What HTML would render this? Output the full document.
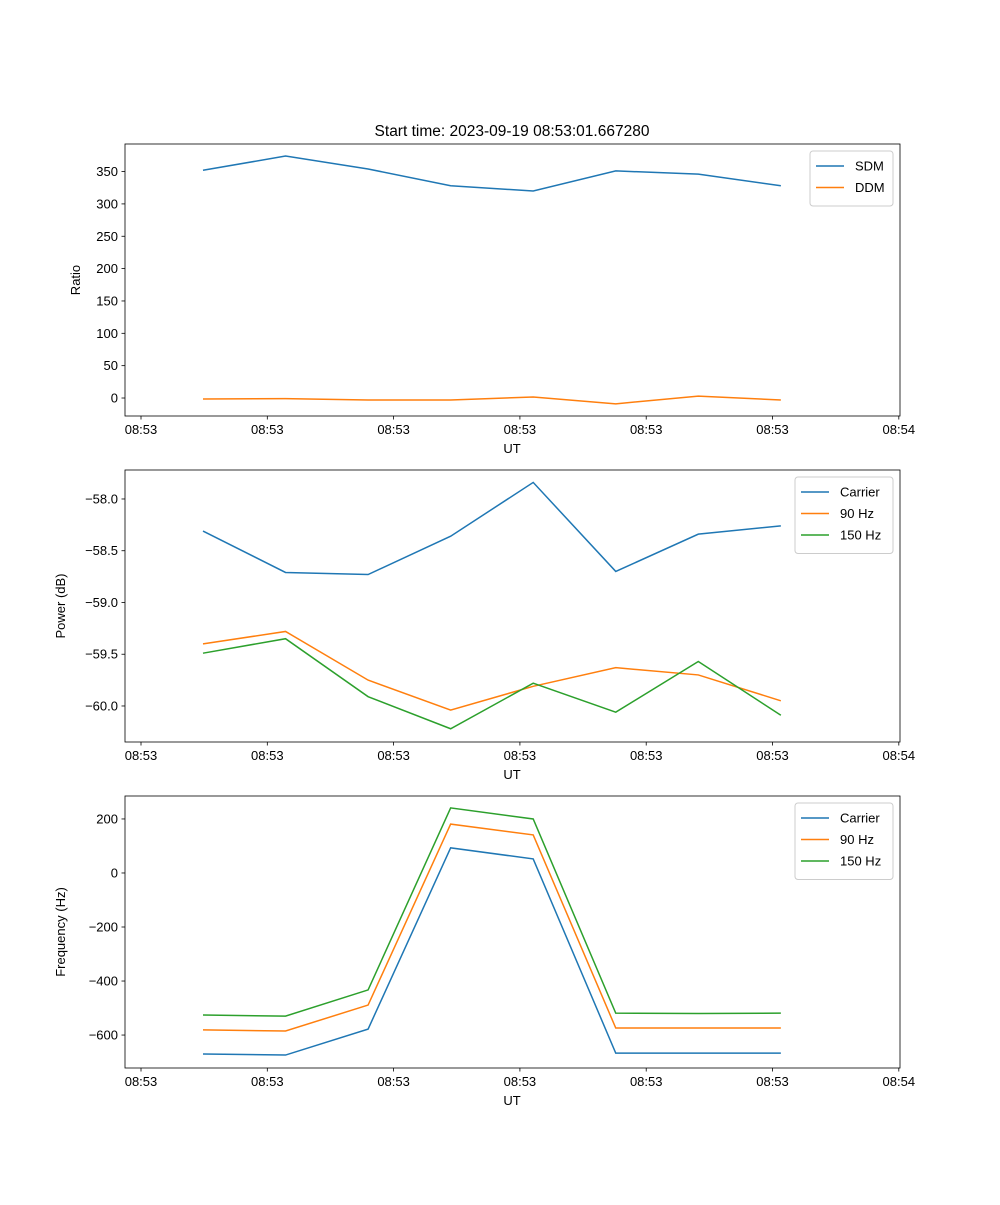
<!DOCTYPE html>
<html><head><meta charset="utf-8"><style>
body{margin:0;background:#fff;}
svg text{font-family:"Liberation Sans","DejaVu Sans",sans-serif;font-size:13px;fill:#000;}
</style></head><body>
<svg id="fig" width="1000" height="1200" xmlns="http://www.w3.org/2000/svg">
<rect width="1000" height="1200" fill="#fff"/>
<text x="512" y="136" text-anchor="middle" style="font-size:15.5px">Start time: 2023-09-19 08:53:01.667280</text>
</svg>
<script>
// shared x data (sample index) and tick info
const xTickPos = [-0.751, 0.779, 2.309, 3.839, 5.369, 6.899, 8.429];
const xTickLabels = ["08:53","08:53","08:53","08:53","08:53","08:53","08:54"];
// panel 1
const sdm = [352, 374, 354, 328, 320, 351, 346, 328];
const ddm = [-1.5, -1, -3, -3, 1.5, -9, 3, -3];
const p1Ticks = [0,50,100,150,200,250,300,350];
// panel 2
const pCarrier = [-58.31,-58.71,-58.73,-58.36,-57.84,-58.70,-58.34,-58.26];
const p90 = [-59.40,-59.28,-59.75,-60.04,-59.81,-59.63,-59.70,-59.95];
const p150 = [-59.49,-59.35,-59.91,-60.22,-59.78,-60.06,-59.57,-60.09];
const p2Ticks = [-60.0,-59.5,-59.0,-58.5,-58.0];
// panel 3
const fCarrier = [-670,-674,-578,93,52,-667,-667,-667];
const f90 = [-581,-585,-489,181,141,-574,-574,-574];
const f150 = [-526,-530,-433,241,200,-519,-520,-519];
const p3Ticks = [-600,-400,-200,0,200];

const NS="http://www.w3.org/2000/svg";
const svg=document.getElementById('fig');
function mk(t,a,p){const e=document.createElementNS(NS,t);for(const k in a)e.setAttribute(k,a[k]);(p||svg).appendChild(e);return e;}
const X0=125,X1=900;
function xs(i){return 203+i*82.55;}
const colors=["#1f77b4","#ff7f0e","#2ca02c"];

function panel(top,ymin,ymax,yticks,fmt,series,names,ylabel,legW,pname){
  const bot=top+272;
  const g=mk('g',{});
  
  
  const ys=v=>bot-(v-ymin)/(ymax-ymin)*272;
  series.forEach((s,k)=>{
    const pl=mk('polyline',{points:s.map((v,i)=>xs(i)+','+ys(v)).join(' '),fill:'none',stroke:colors[k],'stroke-width':1.5},g);
    
    
  });
  mk('rect',{x:X0,y:top,width:X1-X0,height:272,fill:'none',stroke:'#000','stroke-width':0.8},g);
  xTickPos.forEach((p,i)=>{const x=xs(p);
    mk('line',{x1:x,x2:x,y1:bot,y2:bot+3.5,stroke:'#000','stroke-width':0.8},g);
    const t=mk('text',{x:x,y:bot+18,'text-anchor':'middle'},g);t.textContent=xTickLabels[i];
    
    });
  yticks.forEach(v=>{const y=ys(v);
    mk('line',{x1:X0-3.5,x2:X0,y1:y,y2:y,stroke:'#000','stroke-width':0.8},g);
    const t=mk('text',{x:X0-7,y:y+4.5,'text-anchor':'end'},g);t.textContent=fmt(v);
    
    });
  const xl=mk('text',{x:512,y:bot+37,'text-anchor':'middle'},g);xl.textContent='UT';
  
  
  const lx=ylabel==='Ratio'?80:65;
  const yl=mk('text',{x:lx,y:top+136,'text-anchor':'middle',transform:`rotate(-90 ${lx} ${top+136})`},g);yl.textContent=ylabel;
  
  
  const lx0=893-legW, ly0=top+7;
  const lg=mk('g',{},g);
  
  
  mk('rect',{x:lx0,y:ly0,width:legW,height:12+names.length*21.5,fill:'#fff',stroke:'#ccc',rx:3},lg);
  names.forEach((n,k)=>{const y=ly0+15+k*21.5;
    mk('line',{x1:lx0+6,x2:lx0+34,y1:y,y2:y,stroke:colors[k],'stroke-width':1.5},lg);
    const t=mk('text',{x:lx0+45,y:y+4.5},lg);t.textContent=n;
    
    });
}
panel(144,-27.8,392.6,p1Ticks,v=>String(v),[sdm,ddm],["SDM","DDM"],'Ratio',83,'ratio-panel');
panel(470,-60.348,-57.72,p2Ticks,v=>(v<0?'\u2212':'')+Math.abs(v).toFixed(1),[pCarrier,p90,p150],["Carrier","90 Hz","150 Hz"],'Power (dB)',98,'power-panel');
panel(796,-722,285,p3Ticks,v=>(v<0?'\u2212':'')+Math.abs(v),[fCarrier,f90,f150],["Carrier","90 Hz","150 Hz"],'Frequency (Hz)',98,'frequency-panel');
</script>
</body></html>
